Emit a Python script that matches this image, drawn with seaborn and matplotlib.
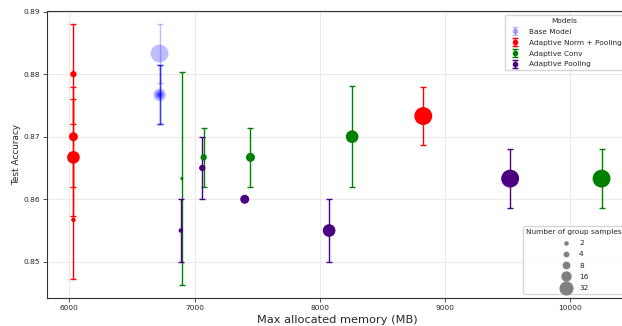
import numpy as np
import pandas as pd
import seaborn as sns
import matplotlib.pyplot as plt
from matplotlib.lines import Line2D

# Data
model_names = ["Base Model", "Adaptive Norm + Pooling", "Adaptive Conv", "Adaptive Pooling"]
model_colors = ["blue", "red", "green", "indigo"]
model_alpha = [0.25, 1.0, 1.0, 1.0]

base_mem = [6720, 6720, 6720, 6720, 6720, 6720]
base_acc = [0.8767, 0.8767, 0.8767, 0.8767, 0.8767, 0.8833]
base_std = [0.0047, 0.0047, 0.0047, 0.0047, 0.0047, 0.0047]
base_n = [2, 4, 8, 16, 32, 64]

norm_mem = [6032, 6032, 6032, 6032, 8826]
norm_acc = [0.8567, 0.8800, 0.8700, 0.8667, 0.8733]
norm_std = [0.0094, 0.0080, 0.0080, 0.0093, 0.0047]
norm_n = [4, 8, 16, 32, 64]

conv_mem = [6898, 7072, 7446, 8258, 10250]
conv_acc = [0.8633, 0.8667, 0.8667, 0.8700, 0.8633]
conv_std = [0.0170, 0.0047, 0.0047, 0.0081, 0.0047]
conv_n = [2, 8, 16, 32, 64]

pool_mem = [6890, 7061, 7400, 8074, 9520]
pool_acc = [0.8550, 0.8650, 0.8600, 0.8550, 0.8633]
pool_std = [0.0050, 0.0050, 0.0, 0.0050, 0.0047]
pool_n = [4, 8, 16, 32, 64]

legend_n = [2, 4, 8, 16, 32]

frames = []
for name, mem, acc, std, n in zip(
        model_names,
        [base_mem, norm_mem, conv_mem, pool_mem],
        [base_acc, norm_acc, conv_acc, pool_acc],
        [base_std, norm_std, conv_std, pool_std],
        [base_n, norm_n, conv_n, pool_n]):
    frames.append(pd.DataFrame({"model": name, "memory": mem, "accuracy": acc,
                                "std": std, "samples": n}))
df = pd.concat(frames, ignore_index=True)

sns.set_style("whitegrid", {"axes.edgecolor": "#333333", "grid.color": "#ebebeb",
                            "xtick.bottom": True, "ytick.left": True})
plt.rcParams["font.family"] = ["DejaVu Sans"]

fig = plt.figure(figsize=(6.22, 3.26), dpi=100)
ax = fig.add_axes([0.0756, 0.086, 0.934, 0.880])

area = lambda n: 2.6 * n
size_map = {n: area(n) for n in sorted(df["samples"].unique())}

# error bars first, then markers on top
for name, color, alpha in zip(model_names, model_colors, model_alpha):
    d = df[df["model"] == name]
    ax.errorbar(d["memory"], d["accuracy"], yerr=d["std"], fmt="none",
                ecolor=color, alpha=alpha, capsize=2.5, elinewidth=1, capthick=1)
    sns.scatterplot(data=d, x="memory", y="accuracy", size="samples", sizes=size_map,
                    color=color, alpha=alpha, linewidth=0, legend=False, ax=ax, zorder=3)

ax.set_xlabel("Max allocated memory (MB)", fontsize=8.2, labelpad=3)
ax.set_ylabel("Test Accuracy", fontsize=6.4, labelpad=2)
ax.tick_params(labelsize=5.3, length=3, width=0.6, pad=2, color="#333333")
ax.set_xticks([6000, 7000, 8000, 9000, 10000])
ax.set_yticks([0.85, 0.86, 0.87, 0.88, 0.89])

# size legend
size_handles = [Line2D([], [], marker="o", linestyle="none", color="gray",
                       markersize=np.sqrt(area(n))) for n in legend_n]
leg2 = ax.legend(size_handles, [str(n) for n in legend_n], title="Number of group samples",
                 loc="lower right", fontsize=5.3, title_fontsize=5.3, labelspacing=0.7)
ax.add_artist(leg2)

# model legend with errorbar-style handles
model_handles = []
for name, color, alpha in zip(model_names, model_colors, model_alpha):
    h = ax.errorbar([np.nan], [np.nan], yerr=[np.nan], fmt="o", color=color, alpha=alpha,
                    ms=3, capsize=2, elinewidth=1)
    model_handles.append(h)
ax.legend(model_handles, model_names, title="Models", loc="upper right",
          fontsize=5.3, title_fontsize=5.3, labelspacing=0.65)

fig.savefig("out.png", dpi=100)
